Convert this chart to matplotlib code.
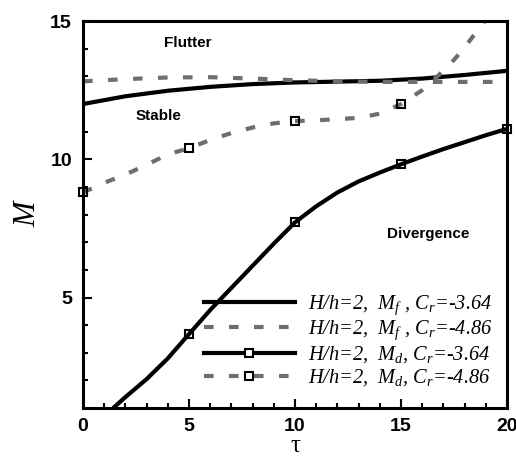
import matplotlib
matplotlib.use("Agg")
import matplotlib.pyplot as plt
from matplotlib.lines import Line2D
from matplotlib.ticker import MultipleLocator

# flutter boundaries, M_f
tau_f = [0, 2, 4, 6, 8, 10, 12, 14, 16, 18, 20]
mf_cr364 = [12.0, 12.28, 12.48, 12.62, 12.72, 12.78, 12.81, 12.84, 12.92, 13.05, 13.2]
mf_cr486 = [12.82, 12.9, 12.96, 12.97, 12.92, 12.86, 12.82, 12.8, 12.8, 12.8, 12.8]

# divergence boundary, M_d, Cr=-3.64
tau_d1 = [1.42, 2, 3, 4, 5, 6, 7, 8, 9, 10, 11, 12, 13, 14, 15, 16, 17, 18, 19, 20]
md_cr364 = [1.0, 1.4, 2.05, 2.8, 3.68, 4.55, 5.35, 6.15, 6.95, 7.72, 8.3, 8.8,
            9.2, 9.52, 9.82, 10.1, 10.37, 10.62, 10.87, 11.1]

# divergence boundary, M_d, Cr=-4.86
tau_d2 = [0, 1, 2, 3, 4, 5, 6, 7, 8, 9, 10, 11, 12, 13, 14, 15, 15.5, 16, 16.5,
          17, 17.5, 18, 18.5, 19, 20]
md_cr486 = [8.8, 9.15, 9.45, 9.8, 10.18, 10.4, 10.7, 10.95, 11.15, 11.3, 11.38,
            11.41, 11.45, 11.5, 11.65, 12.0, 12.25, 12.5, 12.85, 13.2, 13.6,
            14.05, 14.55, 15.05, 16.1]

marker_tau = [0, 5, 10, 15, 20]

labels = [r"H/h=2,  $M_f$ , $C_r$=-3.64",
          r"H/h=2,  $M_f$ , $C_r$=-4.86",
          r"H/h=2,  $M_d$, $C_r$=-3.64",
          r"H/h=2,  $M_d$, $C_r$=-4.86"]

plt.rcParams["mathtext.fontset"] = "custom"
plt.rcParams["mathtext.rm"] = "Liberation Serif:italic"
plt.rcParams["mathtext.it"] = "Liberation Serif:italic"

GRAY = "#6e6e6e"
DASH = (2.3, 3.7)
LW = 3.0
MS = 6.0

fig = plt.figure(figsize=(5.16, 4.58), dpi=100)
ax = fig.add_axes([0.161, 0.109, 0.8216, 0.845])

ax.plot(tau_f, mf_cr364, color="black", lw=LW, solid_capstyle="butt")
ax.plot(tau_f, mf_cr486, color=GRAY, lw=LW, dashes=DASH)
ax.plot(tau_d1, md_cr364, color="black", lw=LW, solid_capstyle="butt")
ax.plot(tau_d2, md_cr486, color=GRAY, lw=LW, dashes=DASH)

# square markers at the computed points
m1 = [(t, m) for t, m in zip(tau_d1, md_cr364) if t in marker_tau]
m2 = [(t, m) for t, m in zip(tau_d2, md_cr486) if t in marker_tau and m <= 15]
for pts in (m1, m2):
    ax.plot([p[0] for p in pts], [p[1] for p in pts], ls="none", marker="s",
            ms=MS, mfc="none", mec="black", mew=1.5, clip_on=False, zorder=5)

ax.set_xlim(0, 20)
ax.set_ylim(1, 15)
ax.xaxis.set_major_locator(MultipleLocator(5))
ax.xaxis.set_minor_locator(MultipleLocator(1))
ax.yaxis.set_major_locator(MultipleLocator(5))
ax.yaxis.set_minor_locator(MultipleLocator(1))
ax.tick_params(which="both", direction="in", width=1.5, top=False, right=False)
ax.tick_params(which="major", length=6.5)
ax.tick_params(which="minor", length=3.6)
ax.tick_params(axis="x", pad=7)
ax.tick_params(axis="y", pad=8)
for lab in ax.get_xticklabels() + ax.get_yticklabels():
    lab.set_fontfamily("Liberation Sans")
    lab.set_fontweight("bold")
    lab.set_fontsize(14)
for sp in ax.spines.values():
    sp.set_linewidth(2.2)

ax.set_ylabel("M", fontfamily="Liberation Serif", fontstyle="italic",
              fontsize=22, labelpad=6)
ax.set_xlabel("τ", fontfamily="Liberation Serif", fontsize=18, labelpad=0)

ax.text(4.95, 14.2, "Flutter", fontfamily="Liberation Sans", fontweight="bold",
        fontsize=11, ha="center", va="center")
ax.text(3.55, 11.55, "Stable", fontfamily="Liberation Sans", fontweight="bold",
        fontsize=11, ha="center", va="center")
ax.text(16.3, 7.3, "Divergence", fontfamily="Liberation Sans", fontweight="bold",
        fontsize=11, ha="center", va="center")

handles = [
    Line2D([], [], color="black", lw=LW),
    Line2D([], [], color=GRAY, lw=LW, dashes=DASH),
    Line2D([], [], color="black", lw=LW, marker="s", ms=MS, mfc="white",
           mec="black", mew=1.5),
    Line2D([], [], color=GRAY, lw=LW, dashes=DASH, marker="s", ms=MS,
           mfc="none", mec="black", mew=1.5),
]
leg = ax.legend(handles, labels, loc="upper left", bbox_to_anchor=(0.26, 0.323),
                frameon=False, numpoints=1, handlelength=4.5, handletextpad=0.6,
                labelspacing=0.1, borderpad=0,
                prop={"family": "Liberation Serif", "style": "italic", "size": 14.7})

fig.savefig("out.png", dpi=100)
